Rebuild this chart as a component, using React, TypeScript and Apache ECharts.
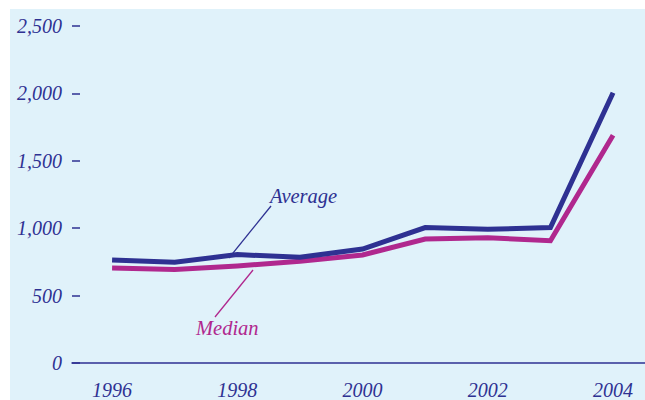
import React, { useEffect, useRef } from "react";
import * as echarts from "echarts";

const years = [1996, 1997, 1998, 1999, 2000, 2001, 2002, 2003, 2004];
const average = [765, 748, 804, 784, 845, 1005, 992, 1005, 2005];
const median = [704, 694, 720, 755, 801, 920, 930, 907, 1690];
const yearLabels = [1996, 1998, 2000, 2002, 2004];

const NAVY = "#2e3192";
const MAGENTA = "#b0288e";
const PANEL = "#e0f2fa";
const FONT = "'Liberation Serif', 'Times New Roman', serif";

export default function App() {
  const ref = useRef<HTMLDivElement>(null);

  useEffect(() => {
    if (!ref.current) return;
    const chart = echarts.init(ref.current, null, { renderer: "svg" });
    const toPairs = (vals: number[]) => years.map((y, i) => [y, vals[i]]);

    chart.setOption({
      animation: false,
      grid: { left: 72, right: 0, top: 26, bottom: 33 },
      xAxis: {
        type: "value",
        min: 1995.36,
        max: 2004.51,
        splitLine: { show: false },
        axisLine: { show: true, lineStyle: { color: NAVY, width: 1.5 } },
        axisTick: { show: false },
        axisLabel: {
          customValues: yearLabels,
          formatter: (v: number) => String(v),
          color: NAVY,
          fontFamily: FONT,
          fontStyle: "italic",
          fontSize: 20,
          margin: 17,
        },
      },
      yAxis: {
        type: "value",
        min: 0,
        max: 2500,
        interval: 500,
        splitLine: { show: false },
        axisLine: { show: false },
        axisTick: { show: true, inside: true, length: 8, lineStyle: { color: NAVY, width: 1.5 } },
        axisLabel: {
          formatter: (v: number) => v.toLocaleString("en-US"),
          color: NAVY,
          fontFamily: FONT,
          fontStyle: "italic",
          fontSize: 20,
          margin: 10,
        },
      },
      series: [
        {
          name: "Median",
          type: "line",
          data: toPairs(median),
          showSymbol: false,
          lineStyle: { color: MAGENTA, width: 5, cap: "butt", join: "miter" },
          z: 2,
        },
        {
          name: "Average",
          type: "line",
          data: toPairs(average),
          showSymbol: false,
          lineStyle: { color: NAVY, width: 5, cap: "butt", join: "miter" },
          z: 3,
        },
      ],
      graphic: [
        {
          type: "line",
          shape: { x1: 271, y1: 206, x2: 229, y2: 258 },
          style: { stroke: NAVY, lineWidth: 1.3 },
          z: 10,
        },
        {
          type: "text",
          x: 270,
          y: 196,
          style: {
            text: "Average",
            fill: NAVY,
            font: `italic 20.5px ${FONT}`,
            textVerticalAlign: "middle",
          },
          z: 10,
        },
        {
          type: "line",
          shape: { x1: 253, y1: 270, x2: 215, y2: 317 },
          style: { stroke: MAGENTA, lineWidth: 1.3 },
          z: 10,
        },
        {
          type: "text",
          x: 196,
          y: 328,
          style: {
            text: "Median",
            fill: MAGENTA,
            font: `italic 20.5px ${FONT}`,
            textVerticalAlign: "middle",
          },
          z: 10,
        },
      ],
    });

    return () => chart.dispose();
  }, []);

  return (
    <div
      style={{
        position: "fixed",
        left: 0,
        top: 0,
        width: 645,
        height: 400,
        background: "#ffffff",
        overflow: "hidden",
      }}
    >
      <div
        style={{
          position: "absolute",
          left: 10,
          top: 9,
          width: 635,
          height: 391,
          background: PANEL,
        }}
      />
      <div ref={ref} style={{ position: "absolute", left: 0, top: 0, width: 645, height: 400 }} />
    </div>
  );
}
